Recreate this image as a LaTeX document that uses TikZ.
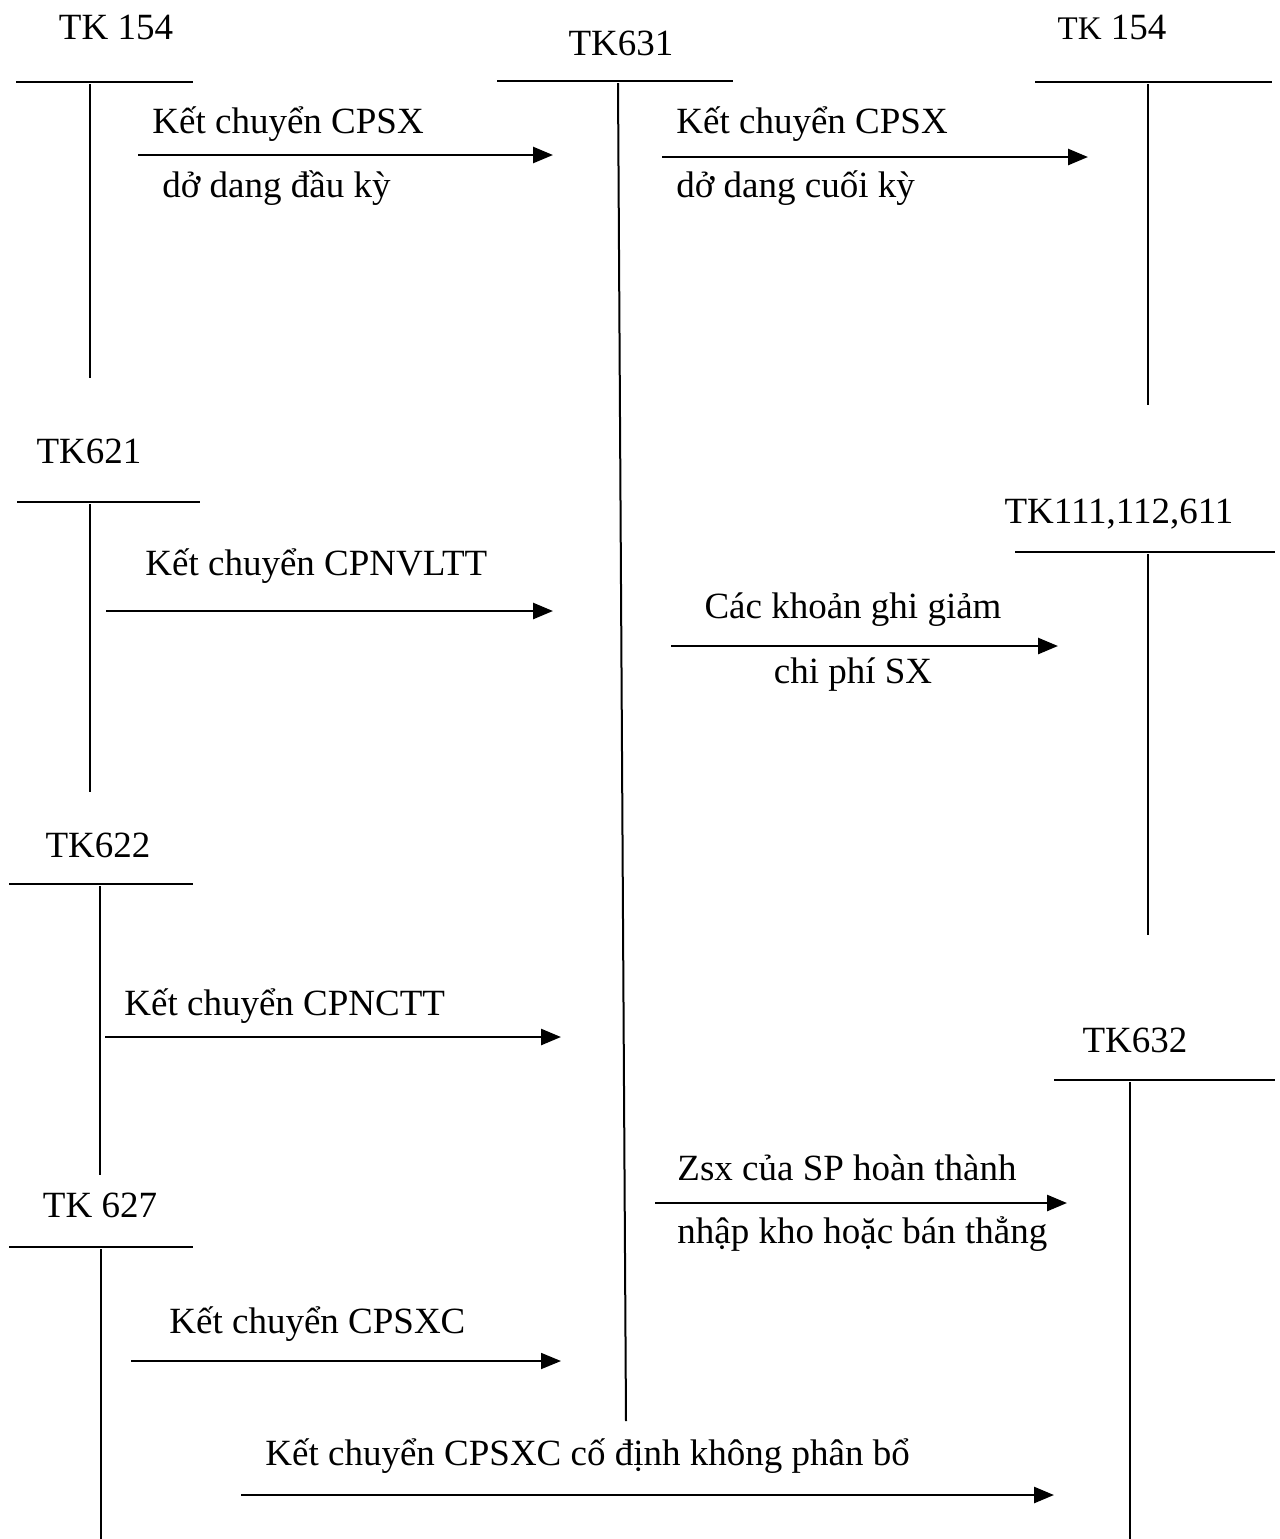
\documentclass[tikz,border=0pt]{standalone}
\usepackage{fontspec}
\setmainfont{Liberation Serif}
\usetikzlibrary{arrows.meta,positioning}

\tikzset{
  acc/.style={line width=1pt},
  kc/.style={line width=1.3pt,-{Triangle[length=10pt,width=8pt]}},
  lbl/.style={anchor=base west,inner sep=0pt},
  lblc/.style={anchor=base,inner sep=0pt},
  tk/.style={anchor=base,inner sep=0pt},
}

\begin{document}
\begin{tikzpicture}[x=0.5pt,y=-0.5pt,font=\fontsize{18.5}{22}\selectfont]
  \useasboundingbox (0,0) rectangle (1280,1539);

  % T-accounts
  \node[tk] (tk154a) at (116,39) {TK 154};
  \draw[acc] (16,82) -- (193,82);
  \draw[acc] (90,84) -- (90,378);

  \node[tk] (tk631) at (621,55) {TK631};
  \draw[acc] (497,81) -- (733,81);
  \draw[acc] (618,83) -- (626,1421);

  \node[tk] (tk154b) at (1112,39) {{\fontsize{16.5}{20}\selectfont TK} 154};
  \draw[acc] (1035,82) -- (1272,82);
  \draw[acc] (1148,84) -- (1148,405);

  \node[tk] (tk621) at (89,463) {TK621};
  \draw[acc] (17,502) -- (200,502);
  \draw[acc] (90,504) -- (90,792);

  \node[tk] (tk111) at (1119,523) {TK111,112,611};
  \draw[acc] (1015,552) -- (1275,552);
  \draw[acc] (1148,554) -- (1148,935);

  \node[tk] (tk622) at (98,857) {TK622};
  \draw[acc] (9,884) -- (193,884);
  \draw[acc] (100,886) -- (100,1175);

  \node[tk] (tk632) at (1135,1052) {TK632};
  \draw[acc] (1054,1080) -- (1275,1080);
  \draw[acc] (1130,1082) -- (1130,1539);

  \node[tk] (tk627) at (100,1217) {TK 627};
  \draw[acc] (9,1247) -- (193,1247);
  \draw[acc] (101,1249) -- (101,1539);

  % ket chuyen arrows
  \coordinate (k1s) at (138,155);
  \coordinate (k1e) at (553,155);
  \draw[kc] (k1s) -- (k1e);
  \node[lbl] (k1a) at (152,133) {Kết chuyển CPSX};
  \node[lbl] (k1b) at (162,197) {dở dang đầu kỳ};

  \coordinate (k2s) at (662,157);
  \coordinate (k2e) at (1088,157);
  \draw[kc] (k2s) -- (k2e);
  \node[lbl] (k2a) at (676,133) {Kết chuyển CPSX};
  \node[lbl] (k2b) at (676,197) {dở dang cuối kỳ};

  \coordinate (k3s) at (106,611);
  \coordinate (k3e) at (553,611);
  \draw[kc] (k3s) -- (k3e);
  \node[lbl] (k3a) at (145,575) {Kết chuyển CPNVLTT};

  \coordinate (k4s) at (671,646);
  \coordinate (k4e) at (1058,646);
  \draw[kc] (k4s) -- (k4e);
  \node[lblc] (k4a) at (853,618) {Các khoản ghi giảm};
  \node[lblc] (k4b) at (853,683) {chi phí SX};

  \coordinate (k5s) at (105,1037);
  \coordinate (k5e) at (561,1037);
  \draw[kc] (k5s) -- (k5e);
  \node[lbl] (k5a) at (124,1015) {Kết chuyển CPNCTT};

  \coordinate (k6s) at (655,1203);
  \coordinate (k6e) at (1067,1203);
  \draw[kc] (k6s) -- (k6e);
  \node[lbl] (k6a) at (677,1180) {Zsx của SP hoàn thành};
  \node[lbl] (k6b) at (677,1243) {nhập kho hoặc bán thẳng};

  \coordinate (k7s) at (131,1361);
  \coordinate (k7e) at (561,1361);
  \draw[kc,line width=0.9pt] (k7s) -- (k7e);
  \node[lbl] (k7a) at (169,1333) {Kết chuyển CPSXC};

  \coordinate (k8s) at (241,1495);
  \coordinate (k8e) at (1054,1495);
  \draw[kc] (k8s) -- (k8e);
  \node[lbl] (k8a) at (265,1465) {Kết chuyển CPSXC cố định không phân bổ};
\end{tikzpicture}
\end{document}
